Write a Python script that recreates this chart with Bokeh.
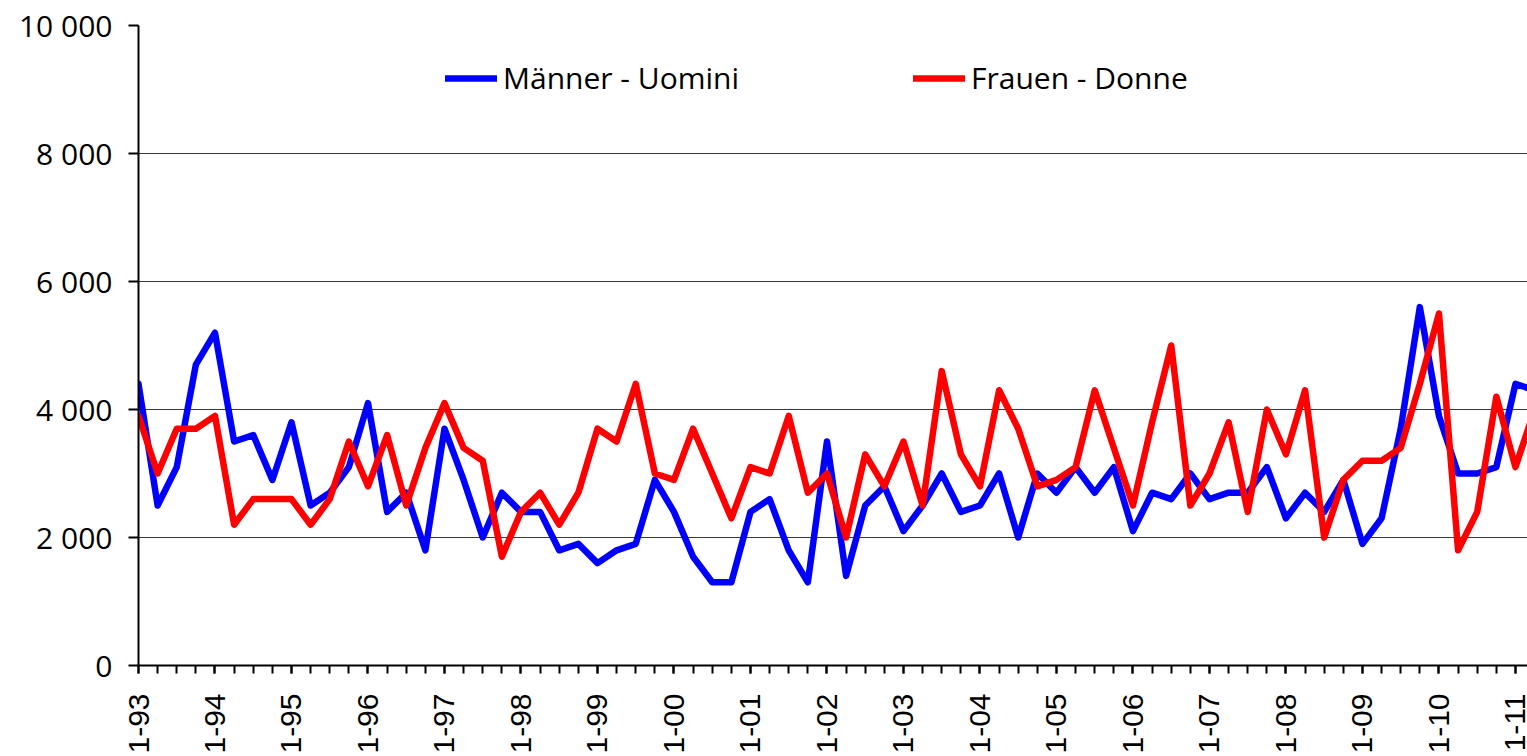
import math
from bokeh.plotting import figure
from bokeh.models import Range1d, FixedTicker, Legend, LegendItem
from bokeh.embed import file_html
from bokeh.resources import INLINE

# Quarterly values, starting with quarter 1 of 1993 (index 0)
maenner = [4400, 2500, 3100, 4700, 5200, 3500, 3600, 2900, 3800, 2500,
           2700, 3100, 4100, 2400, 2700, 1800, 3700, 2900, 2000, 2700,
           2400, 2400, 1800, 1900, 1600, 1800, 1900, 2900, 2400, 1700,
           1300, 1300, 2400, 2600, 1800, 1300, 3500, 1400, 2500, 2800,
           2100, 2500, 3000, 2400, 2500, 3000, 2000, 3000, 2700, 3100,
           2700, 3100, 2100, 2700, 2600, 3000, 2600, 2700, 2700, 3100,
           2300, 2700, 2400, 2900, 1900, 2300, 3700, 5600, 3900, 3000,
           3000, 3100, 4400, 4300]
frauen = [3900, 3000, 3700, 3700, 3900, 2200, 2600, 2600, 2600, 2200,
          2600, 3500, 2800, 3600, 2500, 3400, 4100, 3400, 3200, 1700,
          2400, 2700, 2200, 2700, 3700, 3500, 4400, 3000, 2900, 3700,
          3000, 2300, 3100, 3000, 3900, 2700, 3000, 2000, 3300, 2800,
          3500, 2500, 4600, 3300, 2800, 4300, 3700, 2800, 2900, 3100,
          4300, 3400, 2500, 3800, 5000, 2500, 3000, 3800, 2400, 4000,
          3300, 4300, 2000, 2900, 3200, 3200, 3400, 4400, 5500, 1800,
          2400, 4200, 3100, 4000]
year_labels = ["1-93", "1-94", "1-95", "1-96", "1-97", "1-98", "1-99",
               "1-00", "1-01", "1-02", "1-03", "1-04", "1-05", "1-06",
               "1-07", "1-08", "1-09", "1-10", "1-11"]
y_ticks = [0, 2000, 4000, 6000, 8000, 10000]
y_labels = ["0", "2 000", "4 000", "6 000", "8 000", "10 000"]
series_names = ["Männer - Uomini", "Frauen - Donne"]

quarters = list(range(len(maenner)))
year_ticks = [4 * i for i in range(len(year_labels))]

p = figure(width=1527, height=756, output_backend="svg", toolbar_location=None,
           x_range=Range1d(0, 72.63), y_range=Range1d(0, 10000),
           min_border_left=138, min_border_right=0, min_border_top=25,
           min_border_bottom=91)
p.outline_line_color = None
p.background_fill_color = "white"
p.border_fill_color = "white"

p.xgrid.visible = False
p.ygrid.grid_line_color = "#3a3a3a"
p.ygrid.grid_line_width = 1

xa = p.xaxis[0]
xa.ticker = FixedTicker(ticks=year_ticks, minor_ticks=quarters)
xa.major_label_overrides = {t: l for t, l in zip(year_ticks, year_labels)}
xa.major_label_orientation = math.pi / 2
xa.major_label_text_font = "Liberation Sans"
xa.major_label_text_font_size = "30px"
xa.major_label_text_color = "black"
xa.major_label_standoff = 20
xa.axis_line_color = "black"
xa.axis_line_width = 2
xa.major_tick_line_width = 2
xa.minor_tick_line_width = 2
xa.major_tick_line_color = "black"
xa.minor_tick_line_color = "black"
xa.major_tick_out = 8
xa.major_tick_in = 0
xa.minor_tick_out = 8
xa.minor_tick_in = 0

ya = p.yaxis[0]
ya.ticker = FixedTicker(ticks=y_ticks)
ya.major_label_overrides = {t: l for t, l in zip(y_ticks, y_labels)}
ya.major_label_text_font = "Open Sans"
ya.major_label_text_font_size = "30px"
ya.major_label_text_color = "black"
ya.major_label_standoff = 16
ya.axis_line_color = "black"
ya.axis_line_width = 2
ya.major_tick_line_width = 2
ya.major_tick_line_color = "black"
ya.major_tick_out = 10
ya.major_tick_in = 0
ya.minor_tick_line_color = None

r_m = p.line(quarters, maenner, line_color="#0000FF", line_width=6.5, line_join="round", line_cap="round")
r_f = p.line(quarters, frauen, line_color="#FF0000", line_width=6.5, line_join="round", line_cap="round")


def make_legend(label, renderer, loc):
    return Legend(items=[LegendItem(label=label, renderers=[renderer])],
                  location=loc, padding=0, margin=0, spacing=0,
                  border_line_color=None, background_fill_alpha=0,
                  glyph_width=52, glyph_height=20, label_standoff=6,
                  label_text_font="Open Sans", label_text_font_size="30px",
                  label_text_color="black")


p.add_layout(make_legend(series_names[0], r_m, (307, 567)))
p.add_layout(make_legend(series_names[1], r_f, (775, 567)))

open("out.html", "w").write(file_html(p, INLINE))
